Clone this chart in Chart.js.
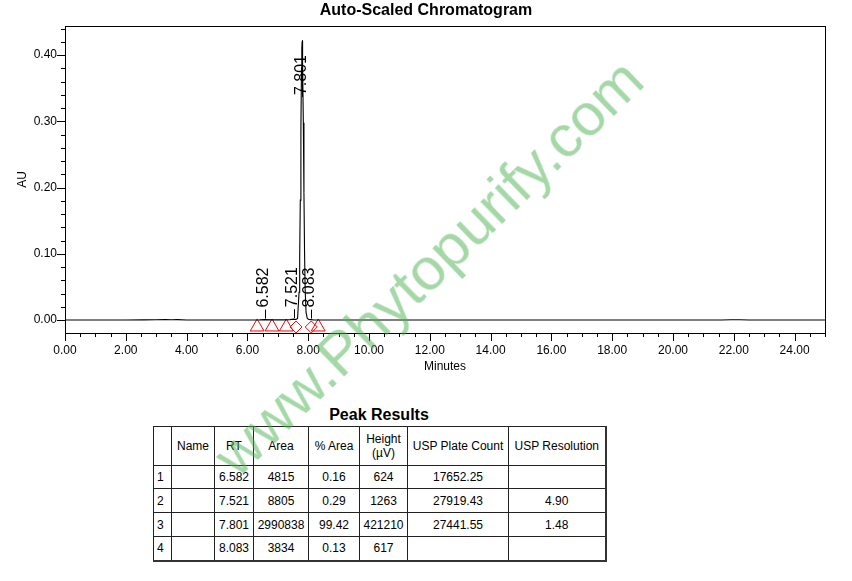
<!DOCTYPE html>
<html>
<head>
<meta charset="utf-8">
<script src="https://cdn.jsdelivr.net/npm/chart.js@4.4.1/dist/chart.umd.min.js"></script>
<style>
  html, body { margin: 0; padding: 0; background: #fff; }
  body { width: 852px; height: 581px; position: relative; overflow: hidden; font-family: Arial, "Liberation Sans", sans-serif; }
  #plot { position: absolute; left: 0; top: 0; width: 852px; height: 380px; }
  #tableTitle { position: absolute; left: 153px; width: 452px; top: 406px; text-align: center; font-weight: bold; font-size: 16px; }
  #peaks { position: absolute; left: 153px; top: 426px; border-collapse: collapse; table-layout: fixed; font-size: 12px; color: #000; }
  #peaks td { border: 1px solid #222; padding: 0; text-align: center; vertical-align: middle; line-height: 14px; }
  #peaks td.num { text-align: left; padding-left: 3px; }
  #peaks tr:last-child td { border-bottom: 2px solid #333; }
  #peaks td:last-child { border-right: 2px solid #333; }
  #mark { position: absolute; left: 428px; top: 267px; transform: translate(-50%, -50%) rotate(-44deg);
          font-size: 60px; color: rgba(76, 178, 80, 0.5); white-space: nowrap; pointer-events: none; }
</style>
</head>
<body>
<div id="plot"><canvas id="chrom"></canvas></div>
<div id="tableTitle">Peak Results</div>
<table id="peaks"></table>
<div id="mark">www.Phytopurify.com</div>
<script>
// chromatogram trace (minutes, AU)
const times = [0.00, 1.00, 2.00, 2.60, 3.00, 3.30, 3.50, 3.70, 4.00, 5.00, 6.00, 6.40, 6.58, 6.80, 7.20, 7.40, 7.52, 7.60,
    7.65, 7.70, 7.72, 7.74, 7.76, 7.78, 7.79, 7.801, 7.81, 7.82, 7.84, 7.86, 7.88, 7.90, 7.93, 7.97, 8.02, 8.08, 8.20,
    9.00, 12.00, 16.00, 20.00, 21.60, 21.90, 22.20, 22.50, 25.00];
const au = [0.0000, 0.0000, 0.0001, 0.0002, 0.0003, 0.0006, 0.0005, 0.0006, 0.0001, 0.0000, 0.0000, 0.0002, 0.0006, 0.0002, 0.0002, 0.0006, 0.0013, 0.0008,
    0.0024, 0.042, 0.096, 0.181, 0.288, 0.381, 0.410, 0.421, 0.413, 0.388, 0.298, 0.192, 0.102, 0.046, 0.011, 0.0025, 0.0009, 0.0006, 0.0001,
    0.0000, 0.0000, 0.0000, 0.0000, 0.0001, 0.0004, 0.0003, 0.0001, 0.0000];

// peak table
const peakNo = ["1", "2", "3", "4"];
const peakName = ["", "", "", ""];
const peakRT = [6.582, 7.521, 7.801, 8.083];
const peakArea = [4815, 8805, 2990838, 3834];
const peakPctArea = [0.16, 0.29, 99.42, 0.13];
const peakHeight = [624, 1263, 421210, 617]; // µV
const plateCount = ["17652.25", "27919.43", "27441.55", ""];
const resolution = ["", "4.90", "1.48", ""];

// integration marks
const triangleRT = [6.32, 6.81, 7.28, 8.33];
const diamondRT = [7.60, 8.10];
const MARK_AU = -0.0105;

const X_MIN = 0, X_MAX = 25, Y_MIN = -0.0196, Y_MAX = 0.444;

const isMajorX = (v) => Math.round(v * 2) % 4 === 0;
const isMajorY = (v) => Math.round(v * 100) % 10 === 0;

const frameAndTicks = {
    id: "frameAndTicks",
    afterDraw(chart) {
        const { ctx, chartArea: a } = chart;
        const xs = chart.scales.x, ys = chart.scales.y;
        ctx.save();
        ctx.strokeStyle = "#000";
        ctx.lineWidth = 1;
        ctx.strokeRect(Math.round(a.left) + 0.5, Math.round(a.top) + 0.5,
            Math.round(a.right - a.left), Math.round(a.bottom - a.top));
        ctx.beginPath();
        xs.ticks.forEach((t) => {
            const px = Math.round(xs.getPixelForValue(t.value)) + 0.5;
            const len = isMajorX(t.value) ? 8 : 4;
            ctx.moveTo(px, Math.round(a.bottom));
            ctx.lineTo(px, Math.round(a.bottom) + len);
        });
        ys.ticks.forEach((t) => {
            if (t.value < Y_MIN || t.value > Y_MAX) return;
            const py = Math.round(ys.getPixelForValue(t.value)) + 0.5;
            const len = isMajorY(t.value) ? 8 : 4;
            ctx.moveTo(Math.round(a.left), py);
            ctx.lineTo(Math.round(a.left) - len, py);
        });
        ctx.stroke();
        ctx.restore();
    },
};

const peakLabels = {
    id: "peakLabels",
    afterDatasetsDraw(chart) {
        const { ctx, chartArea: a } = chart;
        const xs = chart.scales.x, ys = chart.scales.y;
        ctx.save();
        ctx.font = "16px Arial, 'Liberation Sans', sans-serif";
        ctx.fillStyle = "#000";
        ctx.strokeStyle = "#000";
        ctx.lineWidth = 1;
        peakRT.forEach((rt, i) => {
            const label = rt.toFixed(3);
            const w = ctx.measureText(label).width;
            const px = xs.getPixelForValue(rt);
            const apex = ys.getPixelForValue(peakHeight[i] / 1e6);
            const start = Math.max(apex - 12, a.top + 29 + w);
            if (apex - start < 30) {
                ctx.beginPath();
                ctx.moveTo(Math.round(px) + 0.5, apex - 1);
                ctx.lineTo(Math.round(px) + 0.5, start + 2);
                ctx.stroke();
            }
            ctx.save();
            ctx.translate(px - 1, start);
            ctx.rotate(-Math.PI / 2);
            ctx.textAlign = "left";
            ctx.textBaseline = "middle";
            ctx.fillText(label, 0, 0);
            ctx.restore();
        });
        ctx.restore();
    },
};

const chrom = new Chart(document.getElementById("chrom"), {
    type: "line",
    data: {
        datasets: [
            {
                data: times.map((t, i) => ({ x: t, y: au[i] })),
                borderColor: "#000",
                borderWidth: 1.1,
                pointRadius: 0,
                tension: 0,
                fill: false,
            },
            {
                type: "scatter",
                data: triangleRT.map((t) => ({ x: t, y: MARK_AU })),
                pointStyle: "triangle",
                pointRadius: 8,
                borderColor: "#ff0000",
                backgroundColor: "rgba(0,0,0,0)",
                borderWidth: 1,
            },
            {
                type: "scatter",
                data: diamondRT.map((t) => ({ x: t, y: MARK_AU })),
                pointStyle: "rectRot",
                pointRadius: 6,
                borderColor: "#ff0000",
                backgroundColor: "rgba(0,0,0,0)",
                borderWidth: 1,
            },
        ],
    },
    options: {
        responsive: true,
        maintainAspectRatio: false,
        animation: false,
        layout: { padding: 0 },
        plugins: {
            legend: { display: false },
            tooltip: { enabled: false },
            title: {
                display: true,
                text: "Auto-Scaled Chromatogram",
                color: "#000",
                font: { family: "Arial, 'Liberation Sans', sans-serif", size: 16, weight: "bold", lineHeight: 1.2 },
                padding: { top: 1, bottom: 5.8 },
            },
        },
        scales: {
            x: {
                type: "linear",
                min: X_MIN,
                max: X_MAX,
                afterFit: (s) => { s.height = 47; },
                grid: { display: false, drawTicks: false },
                border: { display: false },
                ticks: {
                    stepSize: 0.5,
                    autoSkip: false,
                    maxRotation: 0,
                    padding: 10,
                    color: "#000",
                    font: { family: "Arial, 'Liberation Sans', sans-serif", size: 12 },
                    callback: (v) => (isMajorX(v) ? Number(v).toFixed(2) : ""),
                },
                title: {
                    display: true,
                    text: "Minutes",
                    color: "#000",
                    font: { family: "Arial, 'Liberation Sans', sans-serif", size: 12, lineHeight: 1.2 },
                    padding: { top: 0, bottom: 6 },
                },
            },
            y: {
                min: Y_MIN,
                max: Y_MAX,
                afterFit: (s) => { s.width = 65; },
                grid: { display: false, drawTicks: false },
                border: { display: false },
                ticks: {
                    stepSize: 0.02,
                    includeBounds: false,
                    autoSkip: false,
                    padding: 8,
                    color: "#000",
                    font: { family: "Arial, 'Liberation Sans', sans-serif", size: 12 },
                    callback: (v) => (isMajorY(v) ? Math.abs(v).toFixed(2) : ""),
                },
                title: {
                    display: true,
                    text: "AU",
                    color: "#000",
                    font: { family: "Arial, 'Liberation Sans', sans-serif", size: 12, lineHeight: 1.2 },
                    padding: { top: 15, bottom: 0 },
                },
            },
            // empty right-hand spacer so the plot ends at 25 min like the original
            spacer: {
                type: "linear",
                position: "right",
                min: 0,
                max: 1,
                afterFit: (s) => { s.width = 27; },
                grid: { display: false, drawTicks: false },
                border: { display: false },
                ticks: { display: false },
            },
        },
    },
    plugins: [frameAndTicks, peakLabels],
});

// peak results table
const colWidths = [18, 43, 39, 55, 51, 48, 101, 97];
const rowHeights = [39, 23, 24, 24, 24];
const table = document.getElementById("peaks");
const colgroup = document.createElement("colgroup");
colWidths.forEach((w) => {
    const c = document.createElement("col");
    c.style.width = w + "px";
    colgroup.appendChild(c);
});
table.appendChild(colgroup);
table.style.width = colWidths.reduce((s, w) => s + w, 0) + "px";

const addRow = (cells, h, firstNum) => {
    const tr = document.createElement("tr");
    tr.style.height = h + "px";
    cells.forEach((txt, i) => {
        const td = document.createElement("td");
        td.innerHTML = txt;
        if (firstNum && i === 0) td.className = "num";
        tr.appendChild(td);
    });
    table.appendChild(tr);
};
addRow(["", "Name", "RT", "Area", "% Area", "Height<br>(&micro;V)", "USP Plate Count", "USP Resolution"], rowHeights[0], false);
peakNo.forEach((n, i) => {
    addRow([n, peakName[i], peakRT[i].toFixed(3), String(peakArea[i]), peakPctArea[i].toFixed(2),
        String(peakHeight[i]), plateCount[i], resolution[i]], rowHeights[i + 1], true);
});
</script>
</body>
</html>
